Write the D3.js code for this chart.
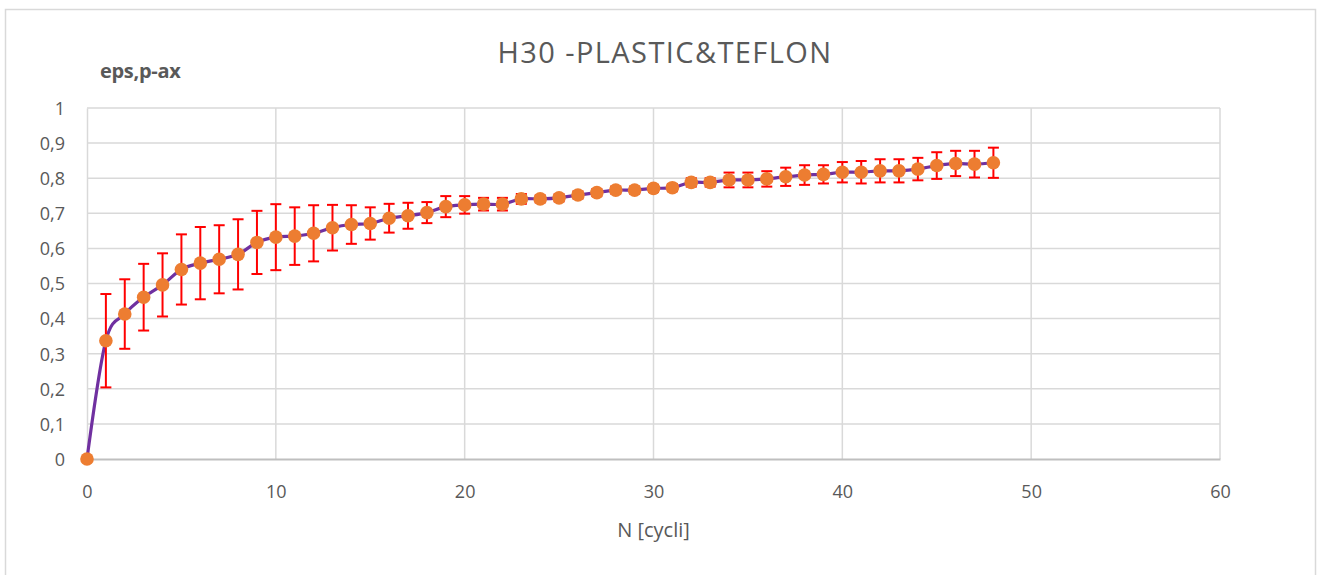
<!DOCTYPE html>
<html>
<head>
<meta charset="utf-8">
<script src="https://cdn.jsdelivr.net/npm/d3@7"></script>
<style>
  html, body { margin: 0; padding: 0; background: #fff; }
  svg { display: block; }
  text { font-family: "Open Sans", "Liberation Sans", sans-serif; fill: #595959; }
</style>
</head>
<body>
<svg id="chart" width="1327" height="575"></svg>
<script>
// Cycle number N
const cycles = d3.range(0, 49);
// Mean axial plastic strain per cycle
const epsMean = [
  0, 0.337, 0.413, 0.461, 0.496, 0.540, 0.558, 0.569, 0.583, 0.617,
  0.632, 0.635, 0.643, 0.659, 0.668, 0.671, 0.686, 0.693, 0.702, 0.719,
  0.724, 0.726, 0.726, 0.741, 0.741, 0.744, 0.752, 0.759, 0.766, 0.766,
  0.771, 0.773, 0.788, 0.788, 0.795, 0.795, 0.798, 0.804, 0.809, 0.811,
  0.817, 0.817, 0.821, 0.821, 0.826, 0.836, 0.842, 0.840, 0.844
];
// Error-bar half-width (± deviation) per cycle
const epsErr = [
  0, 0.133, 0.099, 0.095, 0.090, 0.100, 0.103, 0.097, 0.100, 0.090,
  0.094, 0.082, 0.080, 0.065, 0.055, 0.046, 0.041, 0.037, 0.030, 0.030,
  0.025, 0.018, 0.018, 0.014, 0.010, 0.010, 0.010, 0.010, 0.010, 0.010,
  0.010, 0.010, 0.012, 0.012, 0.021, 0.021, 0.022, 0.026, 0.028, 0.026,
  0.029, 0.032, 0.033, 0.033, 0.032, 0.038, 0.036, 0.038, 0.043
];
const xTicks = [0, 10, 20, 30, 40, 50, 60];
const yTicks = [0, 0.1, 0.2, 0.3, 0.4, 0.5, 0.6, 0.7, 0.8, 0.9, 1];

const chartTitle = "H30 -PLASTIC&TEFLON";
const xTitle = "N [cycli]";
const yTitle = "eps,p-ax";

const data = cycles.map((n, i) => ({ n, v: epsMean[i], e: epsErr[i] }));

const svg = d3.select("#chart");
const plot = { left: 87, right: 1220, top: 108, bottom: 459 };

const x = d3.scaleLinear().domain([0, 60]).range([plot.left, plot.right]);
const y = d3.scaleLinear().domain([0, 1]).range([plot.bottom, plot.top]);

// Chart area frame
svg.append("rect")
  .attr("x", 5.5).attr("y", 9.5)
  .attr("width", 1310).attr("height", 580)
  .attr("fill", "#fff").attr("stroke", "#d9d9d9").attr("stroke-width", 1.5);

// Gridlines
const grid = svg.append("g");
grid.selectAll("line.h").data(yTicks.filter(t => t > 0)).join("line")
  .attr("x1", plot.left).attr("x2", plot.right)
  .attr("y1", d => y(d)).attr("y2", d => y(d))
  .attr("stroke", "#d9d9d9").attr("stroke-width", 1.5);
grid.selectAll("line.v").data(xTicks.filter(t => t > 0)).join("line")
  .attr("y1", plot.top).attr("y2", plot.bottom)
  .attr("x1", d => x(d)).attr("x2", d => x(d))
  .attr("stroke", "#d9d9d9").attr("stroke-width", 1.5);

// Axes
const xAxis = d3.axisBottom(x).tickValues(xTicks).tickSize(0).tickPadding(0)
  .tickFormat(d3.format("d"));
const gx = svg.append("g").attr("transform", `translate(0,${plot.bottom})`).call(xAxis);
gx.select(".domain").attr("stroke", "#bfbfbf").attr("stroke-width", 2);
gx.selectAll(".tick text")
  .attr("y", 33).attr("dy", "0.35em")
  .style("font-size", "18px").attr("fill", "#595959");

const yAxis = d3.axisLeft(y).tickValues(yTicks).tickSize(0).tickPadding(0)
  .tickFormat(d => d === 0 || d === 1 ? String(d) : String(d).replace(".", ","));
const gy = svg.append("g").attr("transform", `translate(${plot.left},0)`).call(yAxis);
gy.select(".domain").attr("stroke", "#d9d9d9").attr("stroke-width", 1.5);
gy.selectAll(".tick text")
  .attr("x", -22).attr("dy", "0.35em")
  .style("font-size", "18px").attr("fill", "#595959");

// Titles
svg.append("text")
  .attr("x", 665).attr("y", 63)
  .attr("text-anchor", "middle")
  .style("font-size", "29px")
  .style("letter-spacing", "1.4px")
  .text(chartTitle);

svg.append("text")
  .attr("x", x(30)).attr("y", 537)
  .attr("text-anchor", "middle")
  .style("font-size", "20px")
  .text(xTitle);

svg.append("text")
  .attr("x", 100).attr("y", 78)
  .style("font-size", "20px").style("font-weight", "bold")
  .style("letter-spacing", "-0.3px")
  .text(yTitle);

// Smoothed series line
const line = d3.line()
  .x(d => x(d.n)).y(d => y(d.v))
  .curve(d3.curveCardinal.tension(0));
svg.append("path")
  .datum(data)
  .attr("d", line)
  .attr("fill", "none")
  .attr("stroke", "#7030a0")
  .attr("stroke-width", 3.2);

// Error bars
const capW = 5.5;
const eb = svg.append("g").attr("stroke", "#ff0000").attr("stroke-width", 2);
const errData = data.filter(d => d.e > 0);
eb.selectAll("line.stem").data(errData).join("line")
  .attr("x1", d => x(d.n)).attr("x2", d => x(d.n))
  .attr("y1", d => y(d.v - d.e)).attr("y2", d => y(d.v + d.e));
eb.selectAll("line.top").data(errData).join("line")
  .attr("x1", d => x(d.n) - capW).attr("x2", d => x(d.n) + capW)
  .attr("y1", d => y(d.v + d.e)).attr("y2", d => y(d.v + d.e));
eb.selectAll("line.bot").data(errData).join("line")
  .attr("x1", d => x(d.n) - capW).attr("x2", d => x(d.n) + capW)
  .attr("y1", d => y(d.v - d.e)).attr("y2", d => y(d.v - d.e));

// Markers
svg.append("g").selectAll("circle").data(data).join("circle")
  .attr("cx", d => x(d.n)).attr("cy", d => y(d.v))
  .attr("r", 6.8)
  .attr("fill", "#ed7d31");
</script>
</body>
</html>
